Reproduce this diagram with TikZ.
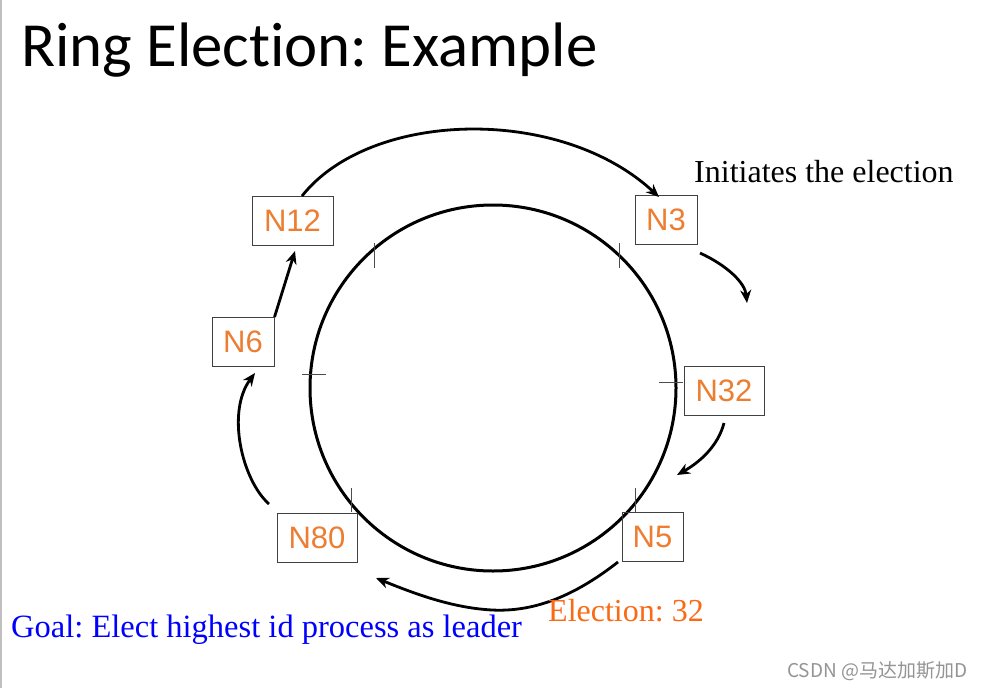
\documentclass[tikz,border=0pt]{standalone}
\usepackage{fontspec}
\setmainfont{Liberation Serif}
\newfontfamily\calib[Ligatures=NoCommon]{Carlito}
\newfontfamily\arialf{Liberation Sans}
\newfontfamily\cjkf{Noto Sans CJK SC}
\usetikzlibrary{arrows.meta}
\frenchspacing
\definecolor{nodeorange}{RGB}{237,125,49}
\definecolor{elecorange}{RGB}{250,105,20}
\tikzset{
  proc/.style={draw=black!75, line width=1pt, minimum width=#1, minimum height=49pt,
    inner sep=0pt, text=nodeorange, font=\arialf\fontsize{31}{31}\selectfont},
  flow/.style={line width=2.8pt, -{Stealth[length=13pt,width=11pt]}},
  tick/.style={draw=black!70, line width=0.9pt},
  lbl/.style={anchor=base west, inner sep=0pt},
}
\begin{document}
\begin{tikzpicture}[x=1pt,y=-1pt]
\useasboundingbox (0,0) rectangle (987,688);
\fill[white] (0,0) rectangle (987,688);
\draw[black!25, line width=2pt] (1,0) -- (1,688);

% title
\node[lbl, font=\calib\fontsize{62.8}{62.8}\selectfont] (title) at (21,66) {Ring Election: Example};

% ring
\draw[line width=3pt] (493,388) circle[radius=183];
\draw[tick] (374,243) -- (374,268);
\draw[tick] (619,243) -- (619,268);
\draw[tick] (302,374) -- (326,374);
\draw[tick] (659,382) -- (683,382);
\draw[tick] (351,488) -- (351,512);
\draw[tick] (635,488) -- (635,512);

% processes
\node[proc=81pt] (n12) at (292.5,221) {N12};
\node[proc=62pt] (n3) at (666,219.5) {N3};
\node[proc=80pt] (n32) at (724,390.5) {N32};
\node[proc=62pt] (n6) at (243,342) {N6};
\node[proc=80pt] (n80) at (317,538) {N80};
\node[proc=61pt] (n5) at (652.5,536.5) {N5};

% free ends
\coordinate (a1s) at (302,196);
\coordinate (a1e) at (659,197);
\coordinate (a2s) at (700,253);
\coordinate (a2e) at (747,303);
\coordinate (a3s) at (724,423);
\coordinate (a3e) at (677,475);
\coordinate (a4s) at (618,562);
\coordinate (a4m) at (492,610);
\coordinate (a4e) at (376,578);
\coordinate (a5s) at (269,504);
\coordinate (a5e) at (255,373);
\coordinate (a6e) at (295,251);

% messages
\draw[flow] (a1s) .. controls (370,110) and (560,105) .. (a1e);
\draw[flow] (a2s) .. controls (728,266) and (745,283) .. (a2e);
\draw[flow] (a3s) .. controls (718,446) and (700,462) .. (a3e);
\draw[flow] (a4s) .. controls (572,598) and (532,612) .. (a4m)
  .. controls (455,608) and (420,596) .. (a4e);
\draw[flow] (a5s) .. controls (242,480) and (226,412) .. (a5e);
\draw[flow] (n6.north east) -- (a6e);

% labels
\node[lbl, font=\fontsize{32}{32}\selectfont] (init) at (694,182) {Initiates the election};
\node[lbl, font=\fontsize{32}{32}\selectfont, text=elecorange] (elec) at (548,621) {Election: 32};
\node[lbl, font=\fontsize{32.5}{32.5}\selectfont, text=blue] (goal) at (11,637) {Goal: Elect highest id process as leader};
\node[lbl, font=\cjkf\fontsize{19}{19}\selectfont, text=black!42] (wm) at (787,677) {CSDN @马达加斯加D};
\end{tikzpicture}
\end{document}
